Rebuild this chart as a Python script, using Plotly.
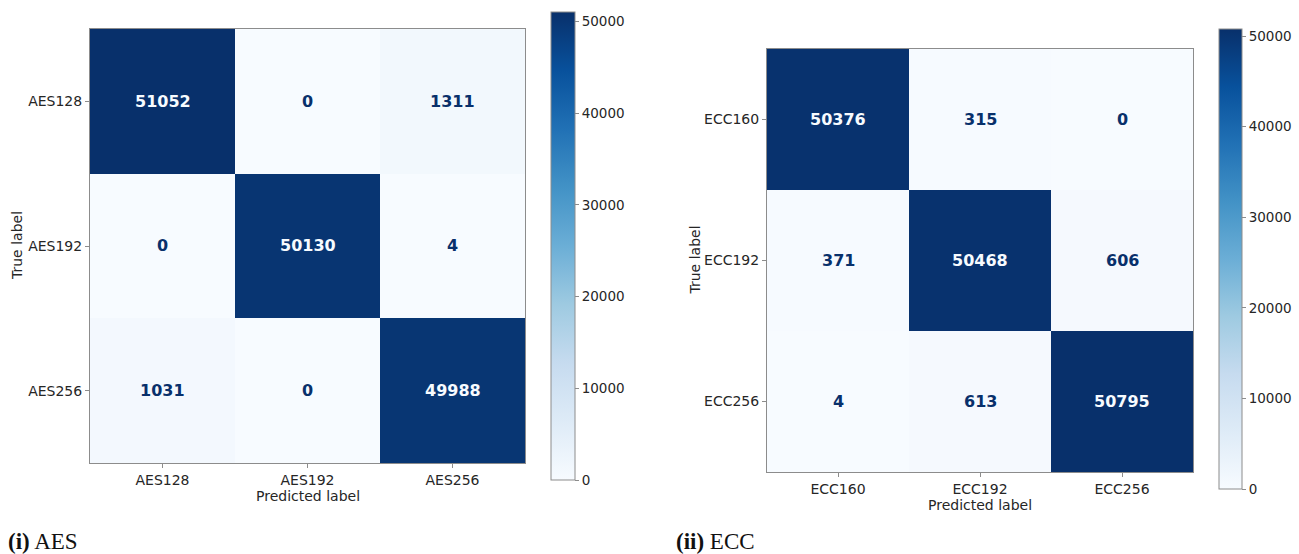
import plotly.graph_objects as go
import plotly.express as px

W, H = 1299, 554

# Confusion matrices (rows = true label, columns = predicted label)
aes_labels = ["AES128", "AES192", "AES256"]
aes_matrix = [
    [51052, 0, 1311],
    [0, 50130, 4],
    [1031, 0, 49988],
]

ecc_labels = ["ECC160", "ECC192", "ECC256"]
ecc_matrix = [
    [50376, 315, 0],
    [371, 50468, 606],
    [4, 613, 50795],
]

cbar_ticks = [0, 10000, 20000, 30000, 40000, 50000]

blues = px.colors.sequential.Blues
light_txt = "rgb(247,251,255)"
dark_txt = "rgb(8,48,107)"
axis_grey = "rgb(140,140,140)"
text_col = "#262626"
font_family = "DejaVu Sans"


def px_x(v):
    return v / W


def px_y(v):
    return 1 - v / H


panels = [
    # labels, matrix, plot box (l, t, r, b), colorbar box (l, t, r, b),
    # caption, positions of the axis titles
    dict(labels=aes_labels, z=aes_matrix, box=(90, 29, 525, 463),
         cbar=(551, 12, 575, 480), caption=("(i)", "AES", 6), xa="x", ya="y",
         xtitle_y=496, ytitle_x=17),
    dict(labels=ecc_labels, z=ecc_matrix, box=(767, 49, 1193, 472),
         cbar=(1219, 29, 1242, 489), caption=("(ii)", "ECC", 674), xa="x2", ya="y2",
         xtitle_y=505, ytitle_x=694),
]

fig = go.Figure()
annotations = []
layout_axes = {}

for i, p in enumerate(panels):
    z = p["z"]
    zmax = max(max(r) for r in z)
    zmin = min(min(r) for r in z)
    l, t, r, b = p["box"]
    cl, ct, cr, cb = p["cbar"]
    n = len(p["labels"])
    fig.add_trace(go.Heatmap(
        z=z, x=list(range(n)), y=list(range(n)),
        colorscale=blues, zmin=0, zmax=zmax,
        xaxis=p["xa"], yaxis=p["ya"], hoverinfo="skip",
        colorbar=dict(
            x=px_x(cl), xanchor="left", xpad=0,
            y=px_y(ct), yanchor="top", ypad=0,
            len=cb - ct, lenmode="pixels",
            thickness=cr - cl, thicknessmode="pixels",
            outlinewidth=1, outlinecolor=axis_grey,
            tickvals=cbar_ticks, ticktext=[str(v) for v in cbar_ticks],
            ticks="outside", ticklen=4, tickcolor=axis_grey,
            tickfont=dict(family=font_family, size=13.5, color=text_col),
        ),
    ))

    # cell value labels
    thresh = (zmax + zmin) / 2
    for ri, row in enumerate(z):
        for ci, v in enumerate(row):
            annotations.append(dict(
                x=ci, y=ri, xref=p["xa"], yref=p["ya"], text=f"<b>{v}</b>",
                showarrow=False,
                font=dict(family=font_family, size=16,
                          color=dark_txt if v < thresh else light_txt),
            ))

    suffix = "" if i == 0 else "2"
    common = dict(
        showgrid=False, zeroline=False, showline=True, mirror=True,
        linecolor=axis_grey, linewidth=1, ticks="outside", ticklen=4,
        tickcolor=axis_grey, automargin=False,
        tickfont=dict(family=font_family, size=14, color=text_col),
        tickvals=list(range(n)), ticktext=p["labels"],
    )
    layout_axes["xaxis" + suffix] = dict(
        common, domain=[px_x(l), px_x(r)], range=[-0.5, n - 0.5],
        anchor="y" + suffix,
    )
    layout_axes["yaxis" + suffix] = dict(
        common, domain=[px_y(b), px_y(t)], range=[n - 0.5, -0.5],
        anchor="x" + suffix,
    )

    # axis titles
    annotations.append(dict(
        x=px_x((l + r) / 2), y=px_y(p["xtitle_y"]), xref="paper", yref="paper",
        text="Predicted label", showarrow=False, xanchor="center", yanchor="middle",
        font=dict(family=font_family, size=14, color=text_col),
    ))
    annotations.append(dict(
        x=px_x(p["ytitle_x"]), y=px_y((t + b) / 2), xref="paper", yref="paper",
        text="True label", showarrow=False, textangle=-90,
        xanchor="center", yanchor="middle",
        font=dict(family=font_family, size=14, color=text_col),
    ))

    # sub-figure caption
    tag, name, cx = p["caption"]
    annotations.append(dict(
        x=px_x(cx), y=px_y(541), xref="paper", yref="paper",
        text=f"<b>{tag}</b> {name}", showarrow=False,
        xanchor="left", yanchor="middle",
        font=dict(family="Liberation Serif", size=23, color="#111"),
    ))

fig.update_layout(
    width=W, height=H,
    margin=dict(l=0, r=0, t=0, b=0),
    paper_bgcolor="white", plot_bgcolor="white",
    showlegend=False,
    annotations=annotations,
    **layout_axes,
)

fig.write_html("out.html", config={"displayModeBar": False})
